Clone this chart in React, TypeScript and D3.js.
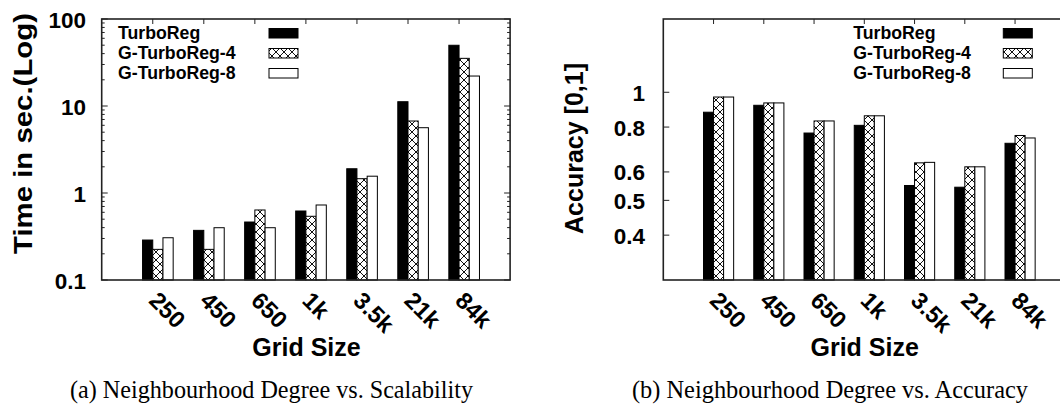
import React from 'react';
import * as d3 from 'd3';

// Grid sizes on the x axis
const gridSizes = ['250', '450', '650', '1k', '3.5k', '21k', '84k'];
const seriesNames = ['TurboReg', 'G-TurboReg-4', 'G-TurboReg-8'];

// Run time in seconds (log scale)
const timeTurboReg = [0.288, 0.372, 0.464, 0.621, 1.9, 11.2, 49.9];
const timeG4 = [0.225, 0.225, 0.638, 0.54, 1.46, 6.72, 35.3];
const timeG8 = [0.306, 0.399, 0.399, 0.728, 1.56, 5.63, 22.1];

// Accuracy in [0,1] (log scale)
const accTurboReg = [0.88, 0.92, 0.77, 0.809, 0.55, 0.544, 0.721];
const accG4 = [0.97, 0.934, 0.832, 0.86, 0.636, 0.62, 0.758];
const accG8 = [0.97, 0.934, 0.832, 0.86, 0.638, 0.62, 0.746];

const timeTicks = [0.1, 1, 10, 100];
const timeTickLabels = ['0.1', '1', '10', '100'];
const accTicks = [0.4, 0.5, 0.6, 0.8, 1];
const accTickLabels = ['0.4', '0.5', '0.6', '0.8', '1'];

const SANS = '"Liberation Sans", Arial, Helvetica, sans-serif';
const SERIF = '"Liberation Serif", "Times New Roman", serif';
const TOP = 19;
const BOTTOM = 280;
const WIDTH = 1060;
const HEIGHT = 406;

type PanelProps = {
  x0: number;
  x1: number;
  y: d3.ScaleLogarithmic<number, number>;
  series: number[][];
  majorTicks: number[];
  majorLabels: string[];
  minorTicks: number[];
  tickLabelRight: number;
  yLabel: string;
  yLabelX: number;
  yLabelY: number;
  yLabelLen?: number;
  legendTextX: number;
  legendSwatchX: number;
  xLabelX: number;
  caption: string;
  captionX: number;
  captionLen: number;
};

function Panel(p: PanelProps) {
  // 7 clusters of 3 bars, each cluster 5 bar-widths wide
  const xs = d3.scaleLinear().domain([0, 40]).range([p.x0, p.x1]);
  const fills = ['#000', 'url(#crossHatch)', '#fff'];
  const base = p.y.range()[0];
  const mirror = p.x1 <= WIDTH;
  return (
    <g>
      {/* bars */}
      {p.series.map((vals, s) =>
        vals.map((v, i) => {
          const xa = xs(4 + 5 * i + s);
          const xb = xs(5 + 5 * i + s);
          const yt = p.y(v);
          return (
            <rect
              key={`b${s}-${i}`}
              x={xa}
              y={yt}
              width={xb - xa}
              height={base - yt}
              fill={fills[s]}
              stroke="#000"
              strokeWidth={1}
            />
          );
        })
      )}
      {/* frame */}
      <rect
        x={p.x0}
        y={TOP}
        width={p.x1 - p.x0}
        height={BOTTOM - TOP}
        fill="none"
        stroke="#222"
        strokeWidth={1.6}
      />
      {/* y ticks, mirrored on the right edge */}
      {p.majorTicks.map((t, k) => (
        <g key={`mj${k}`}>
          <line x1={p.x0} x2={p.x0 + 6} y1={p.y(t)} y2={p.y(t)} stroke="#222" strokeWidth={1} />
          {mirror && (
            <line x1={p.x1} x2={p.x1 - 6} y1={p.y(t)} y2={p.y(t)} stroke="#222" strokeWidth={1} />
          )}
          <text
            x={p.tickLabelRight}
            y={p.y(t) + 8.5}
            textAnchor="end"
            fontFamily={SANS}
            fontWeight="bold"
            fontSize={22.5}
          >
            {p.majorLabels[k]}
          </text>
        </g>
      ))}
      {p.minorTicks.map((t, k) => (
        <g key={`mn${k}`}>
          <line x1={p.x0} x2={p.x0 + 3} y1={p.y(t)} y2={p.y(t)} stroke="#222" strokeWidth={1} />
          {mirror && (
            <line x1={p.x1} x2={p.x1 - 3} y1={p.y(t)} y2={p.y(t)} stroke="#222" strokeWidth={1} />
          )}
        </g>
      ))}
      {/* x ticks at the top and rotated category labels */}
      {gridSizes.map((g, i) => {
        const tx = xs(5 + 5 * i);
        return (
          <g key={`x${i}`}>
            <line x1={tx} x2={tx} y1={TOP} y2={TOP + 5} stroke="#222" strokeWidth={1} />
            <text
              transform={`translate(${tx - 5},302) rotate(45)`}
              fontFamily={SANS}
              fontWeight="bold"
              fontSize={23.5}
            >
              {g}
            </text>
          </g>
        );
      })}
      {/* legend */}
      {seriesNames.map((n, s) => {
        const cy = 33 + 20 * s;
        return (
          <g key={`l${s}`}>
            <text x={p.legendTextX} y={cy + 6.3} fontFamily={SANS} fontWeight="bold" fontSize={17.7}>
              {n}
            </text>
            <rect
              x={p.legendSwatchX}
              y={cy - 4.5}
              width={29}
              height={9.5}
              fill={fills[s]}
              stroke="#000"
              strokeWidth={1}
            />
          </g>
        );
      })}
      {/* axis titles */}
      <text
        transform={`translate(${p.yLabelX},${p.yLabelY}) rotate(-90)`}
        textAnchor="middle"
        fontFamily={SANS}
        fontWeight="bold"
        fontSize={25}
        textLength={p.yLabelLen}
        lengthAdjust="spacingAndGlyphs"
      >
        {p.yLabel}
      </text>
      <text x={p.xLabelX} y={356} textAnchor="middle" fontFamily={SANS} fontWeight="bold" fontSize={25}>
        Grid Size
      </text>
      <text
        x={p.captionX}
        y={398}
        textAnchor="middle"
        fontFamily={SERIF}
        fontSize={25}
        textLength={p.captionLen}
        lengthAdjust="spacingAndGlyphs"
      >
        {p.caption}
      </text>
    </g>
  );
}

export default function App() {
  const yTime = d3.scaleLog().domain([0.1, 100]).range([BOTTOM, TOP]);
  const yAcc = d3.scaleLog().domain([0.3, 1.6]).range([BOTTOM, TOP]);
  const timeAll = yTime.ticks();
  const timeMinor = timeAll.filter((t) => !timeTicks.some((m) => Math.abs(m - t) < 1e-9));

  return (
    <svg
      width={WIDTH}
      height={HEIGHT}
      style={{ position: 'absolute', left: 0, top: 0, background: '#fff' }}
    >
      <defs>
        <pattern id="crossHatch" width={8} height={8} patternUnits="userSpaceOnUse">
          <rect width={8} height={8} fill="#fff" />
          <path d="M-2,-2 L10,10 M10,-2 L-2,10" stroke="#111" strokeWidth={1} />
        </pattern>
      </defs>
      <rect width={WIDTH} height={HEIGHT} fill="#fff" />
      <Panel
        x0={101.7}
        x1={510.1}
        y={yTime}
        series={[timeTurboReg, timeG4, timeG8]}
        majorTicks={timeTicks}
        majorLabels={timeTickLabels}
        minorTicks={timeMinor}
        tickLabelRight={86}
        yLabel="Time in sec.(Log)"
        yLabelX={31.5}
        yLabelY={133.5}
        yLabelLen={241}
        legendTextX={118}
        legendSwatchX={269}
        xLabelX={306.5}
        caption="(a)  Neighbourhood Degree vs. Scalability"
        captionX={271.5}
        captionLen={403}
      />
      <Panel
        x0={663.3}
        x1={1065.3}
        y={yAcc}
        series={[accTurboReg, accG4, accG8]}
        majorTicks={accTicks}
        majorLabels={accTickLabels}
        minorTicks={[]}
        tickLabelRight={645}
        yLabel="Accuracy [0,1]"
        yLabelX={583}
        yLabelY={148.5}
        legendTextX={853.3}
        legendSwatchX={1003.3}
        xLabelX={864.7}
        caption="(b)  Neighbourhood Degree vs. Accuracy"
        captionX={830}
        captionLen={396}
      />
    </svg>
  );
}
